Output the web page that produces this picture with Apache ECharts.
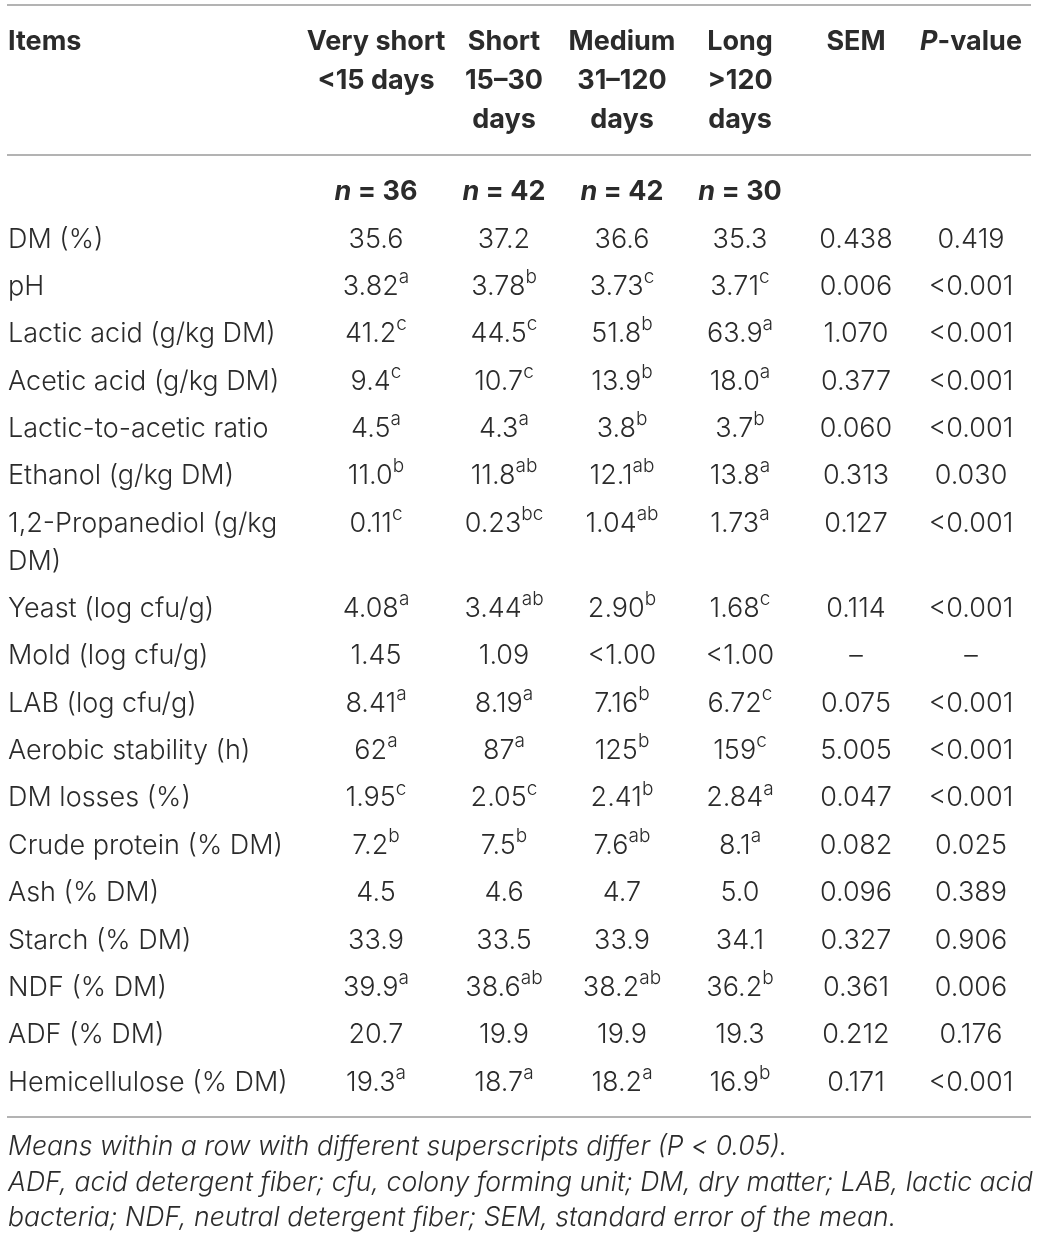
<!DOCTYPE html>
<html>
<head>
<meta charset="utf-8">
<script src="https://cdn.jsdelivr.net/npm/echarts@6/dist/echarts.min.js"></script>
<style>
  html, body {margin: 0; padding: 0; background: #fff;}
  #chart {width: 1043px; height: 1241px;}
</style>
</head>
<body>
<div id="chart"></div>
<script>
// table content
const headItems = 'Items';
const groupHeads = ['Very short\n<15 days', 'Short\n15–30\ndays', 'Medium\n31–120\ndays', 'Long\n>120\ndays'];
const nCounts = [36, 42, 42, 30];
const items = ['DM (%)', 'pH', 'Lactic acid (g/kg DM)', 'Acetic acid (g/kg DM)', 'Lactic-to-acetic ratio',
    'Ethanol (g/kg DM)', '1,2-Propanediol (g/kg\nDM)', 'Yeast (log cfu/g)', 'Mold (log cfu/g)', 'LAB (log cfu/g)',
    'Aerobic stability (h)', 'DM losses (%)', 'Crude protein (% DM)', 'Ash (% DM)', 'Starch (% DM)',
    'NDF (% DM)', 'ADF (% DM)', 'Hemicellulose (% DM)'];
const veryShort = ['35.6', '3.82', '41.2', '9.4', '4.5', '11.0', '0.11', '4.08', '1.45', '8.41', '62', '1.95', '7.2', '4.5', '33.9', '39.9', '20.7', '19.3'];
const veryShortSup = ['', 'a', 'c', 'c', 'a', 'b', 'c', 'a', '', 'a', 'a', 'c', 'b', '', '', 'a', '', 'a'];
const short = ['37.2', '3.78', '44.5', '10.7', '4.3', '11.8', '0.23', '3.44', '1.09', '8.19', '87', '2.05', '7.5', '4.6', '33.5', '38.6', '19.9', '18.7'];
const shortSup = ['', 'b', 'c', 'c', 'a', 'ab', 'bc', 'ab', '', 'a', 'a', 'c', 'b', '', '', 'ab', '', 'a'];
const medium = ['36.6', '3.73', '51.8', '13.9', '3.8', '12.1', '1.04', '2.90', '<1.00', '7.16', '125', '2.41', '7.6', '4.7', '33.9', '38.2', '19.9', '18.2'];
const mediumSup = ['', 'c', 'b', 'b', 'b', 'ab', 'ab', 'b', '', 'b', 'b', 'b', 'ab', '', '', 'ab', '', 'a'];
const long = ['35.3', '3.71', '63.9', '18.0', '3.7', '13.8', '1.73', '1.68', '<1.00', '6.72', '159', '2.84', '8.1', '5.0', '34.1', '36.2', '19.3', '16.9'];
const longSup = ['', 'c', 'a', 'a', 'b', 'a', 'a', 'c', '', 'c', 'c', 'a', 'a', '', '', 'b', '', 'b'];
const sem = ['0.438', '0.006', '1.070', '0.377', '0.060', '0.313', '0.127', '0.114', '–', '0.075', '5.005', '0.047', '0.082', '0.096', '0.327', '0.361', '0.212', '0.171'];
const pValue = ['0.419', '<0.001', '<0.001', '<0.001', '<0.001', '0.030', '<0.001', '<0.001', '–', '<0.001', '<0.001', '<0.001', '0.025', '0.389', '0.906', '0.006', '0.176', '<0.001'];
const footnotes = [
    'Means within a row with different superscripts differ (P < 0.05).',
    'ADF, acid detergent fiber; cfu, colony forming unit; DM, dry matter; LAB, lactic acid',
    'bacteria; NDF, neutral detergent fiber; SEM, standard error of the mean.'
];

// layout
const W = 1043, H = 1241;
const FONT = 'Inter, "Liberation Sans", Arial, sans-serif';
const TEXT = '#2b2b2b';
const RULE = '#9a9a9a';
const leftX = 8;
const colX = [376, 504, 622, 740, 856, 971];
const headY = 42, headLine = 39;
const nRowY = 192;
const firstRowY = 239.5, rowStep = 47.35, wrapStep = 38;
const rules = [5, 155, 1117];
const ruleX = [7, 1031];
const footY = 1147, footStep = 35.5;

const RICH = {
    b: {fontFamily: FONT, fontSize: 27, fontWeight: 'bold', fill: TEXT, lineHeight: headLine},
    bi: {fontFamily: FONT, fontSize: 27, fontWeight: 'bold', fontStyle: 'italic', fill: TEXT, lineHeight: headLine},
    v: {fontFamily: FONT, fontSize: 27, fontWeight: 300, fill: TEXT, lineHeight: wrapStep},
    s: {fontFamily: FONT, fontSize: 19, fontWeight: 300, fill: TEXT, lineHeight: 29, verticalAlign: 'top'},
    f: {fontFamily: FONT, fontSize: 26.6, fontWeight: 300, fontStyle: 'italic', fill: TEXT, lineHeight: footStep}
};

function esc(t) {
    return String(t).replace(/[{}|]/g, '');
}

function tagLines(text, tag) {
    return text.split('\n').map(function (l) {
        return `{${tag}|${esc(l)}}`;
    }).join('\n');
}

// every cell becomes [x, y, cellIndex]
let cells = [];
let cellData = [];

function addCell(x, y, text, align, va) {
    cellData.push([x, y, cells.length]);
    cells.push({text: text, align: align, va: va});
}

// header
addCell(leftX, headY - headLine / 2, tagLines(headItems, 'b'), 'left', 'top');
groupHeads.forEach(function (h, i) {
    addCell(colX[i], headY - headLine / 2, tagLines(h, 'b'), 'center', 'top');
});
addCell(colX[4], headY - headLine / 2, '{b|SEM}', 'center', 'top');
addCell(colX[5], headY - headLine / 2, '{bi|P}{b|-value}', 'center', 'top');

nCounts.forEach(function (n, i) {
    addCell(colX[i], nRowY, `{bi|n}{b| = ${n}}`, 'center', 'middle');
});

// body
const groupVals = [veryShort, short, medium, long];
const groupSups = [veryShortSup, shortSup, mediumSup, longSup];
let y = firstRowY;
items.forEach(function (item, r) {
    addCell(leftX, y - wrapStep / 2, tagLines(item, 'v'), 'left', 'top');
    groupVals.forEach(function (vals, g) {
        let sup = groupSups[g][r];
        let t = `{v|${esc(vals[r])}}` + (sup ? `{s|${sup}}` : '');
        addCell(colX[g], y, t, 'center', 'middle');
    });
    addCell(colX[4], y, `{v|${esc(sem[r])}}`, 'center', 'middle');
    addCell(colX[5], y, `{v|${esc(pValue[r])}}`, 'center', 'middle');
    y += rowStep + (item.split('\n').length - 1) * wrapStep;
});

footnotes.forEach(function (f, i) {
    addCell(leftX, footY + i * footStep, `{f|${esc(f)}}`, 'left', 'middle');
});

let chart = echarts.init(document.getElementById('chart'), null, {renderer: 'canvas'});
chart.setOption({
    backgroundColor: '#fff',
    animation: false,
    grid: {left: 0, right: 0, top: 0, bottom: 0},
    xAxis: {type: 'value', min: 0, max: W, show: false},
    yAxis: {type: 'value', min: 0, max: H, inverse: true, show: false},
    series: [
        {
            type: 'custom',
            name: 'rules',
            silent: true,
            data: rules.map(v => [ruleX[0], v, ruleX[1]]),
            renderItem: function (params, api) {
                let a = api.coord([api.value(0), api.value(1)]);
                let b = api.coord([api.value(2), api.value(1)]);
                return {
                    type: 'line',
                    shape: {x1: a[0], y1: a[1], x2: b[0], y2: b[1]},
                    style: {stroke: RULE, lineWidth: 1.6}
                };
            }
        },
        {
            type: 'custom',
            name: 'cells',
            silent: true,
            data: cellData,
            renderItem: function (params, api) {
                let c = cells[api.value(2)];
                let p = api.coord([api.value(0), api.value(1)]);
                return {
                    type: 'text',
                    x: p[0],
                    y: p[1],
                    style: {
                        text: c.text,
                        rich: RICH,
                        align: c.align,
                        verticalAlign: c.va,
                        fontFamily: FONT,
                        fontSize: 27,
                        fill: TEXT
                    }
                };
            }
        }
    ]
});
</script>
</body>
</html>
